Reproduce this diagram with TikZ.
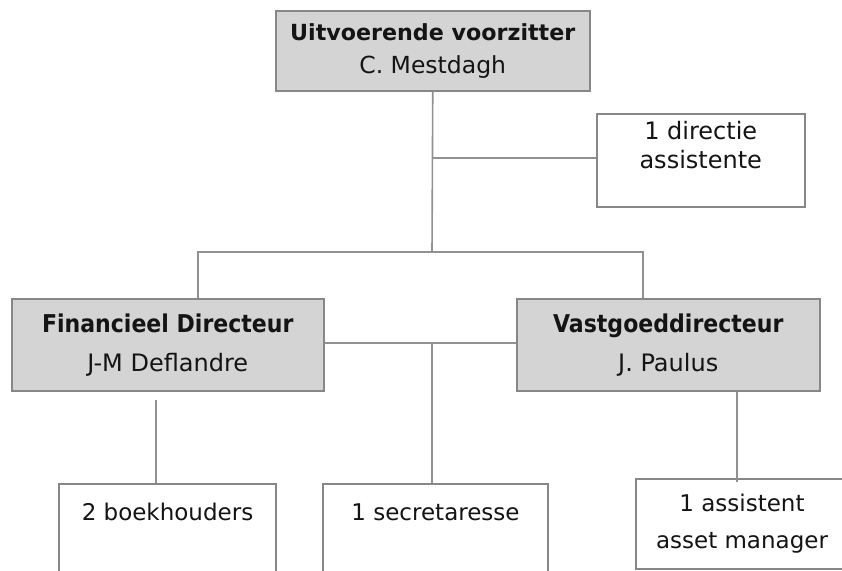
\documentclass[tikz,border=0pt]{standalone}
\usepackage{fontspec}
\setmainfont{DejaVu Sans}
\newfontfamily\tallfont[FakeStretch=0.9]{DejaVu Sans}
\usepackage{xcolor}
\usepackage{tikz}
\definecolor{headgray}{RGB}{212,212,212}
\definecolor{framegray}{RGB}{135,135,135}
\definecolor{linkgray}{RGB}{145,145,145}
\definecolor{inkblack}{RGB}{20,20,20}

\begin{document}
\begin{tikzpicture}[x=1pt,y=-1pt,
    font=\fontsize{23}{33}\selectfont,
    box/.style={draw=framegray,line width=1.5pt,text=inkblack,align=center,inner sep=0pt},
    headbox/.style={box,fill=headgray},
    staffbox/.style={box,fill=white},
    link/.style={draw=linkgray,line width=1.6pt}]
    \useasboundingbox (0,0) rectangle (842,570);
    \clip (0,0) rectangle (842,570);
    % top of the chart
    \node[headbox,anchor=north west,minimum width=314,minimum height=80] (ceo) at (275,10)
        {{\fontsize{22.2}{33}\selectfont\bfseries Uitvoerende voorzitter}\\
         {\fontsize{23.5}{33}\selectfont C. Mestdagh}};
    \node[staffbox,anchor=north west,minimum width=208,minimum height=93,
        font=\fontsize{24}{29}\selectfont,text depth=30pt] (assist) at (596,113)
        {1 directie\\assistente};
    % the two directors
    \node[headbox,anchor=north west,minimum width=312,minimum height=92,
        font=\fontsize{24}{39}\selectfont] (fin) at (11,298)
        {{\tallfont\fontsize{24.5}{39}\selectfont\bfseries Financieel Directeur}\\J-M Deflandre};
    \node[headbox,anchor=north west,minimum width=303,minimum height=92,
        font=\fontsize{24}{39}\selectfont] (vast) at (516,298)
        {{\tallfont\fontsize{24.5}{39}\selectfont\bfseries Vastgoeddirecteur}\\J. Paulus};
    % staff boxes, cut off at the bottom
    \node[staffbox,anchor=north,minimum width=217,inner ysep=20pt,text height=17pt,text depth=120pt] (books) at (167.5,483)
        {2 boekhouders};
    \node[staffbox,anchor=north,minimum width=225,inner ysep=20pt,text height=17pt,text depth=120pt] (secr) at (435.5,483)
        {1 secretaresse};
    \node[staffbox,anchor=north,minimum width=212,minimum height=90,
        font=\fontsize{23}{37}\selectfont] (mgr) at (742,478)
        {1 assistent\\asset manager};
    % junction points
    \coordinate (side) at (432,158);
    \coordinate (split) at (432,252);
    \coordinate (finup) at (198,252);
    \coordinate (vastup) at (643,252);
    \coordinate (midbar) at (432,343);
    \coordinate (bookup) at (156,400);
    \coordinate (mgrup) at (737,482);
    % connectors
    \draw[link] (ceo.south) -- (split);
    \draw[link] (side) -- (side -| assist.west);
    \draw[link] (finup |- fin.north) -- (finup) -- (vastup) -- (vastup |- vast.north);
    \draw[link] (fin.east |- midbar) -- (vast.west |- midbar);
    \draw[link] (midbar) -- (midbar |- secr.north);
    \draw[link] (bookup) -- (bookup |- books.north);
    \draw[link] (mgrup |- vast.south) -- (mgrup);
\end{tikzpicture}
\end{document}
